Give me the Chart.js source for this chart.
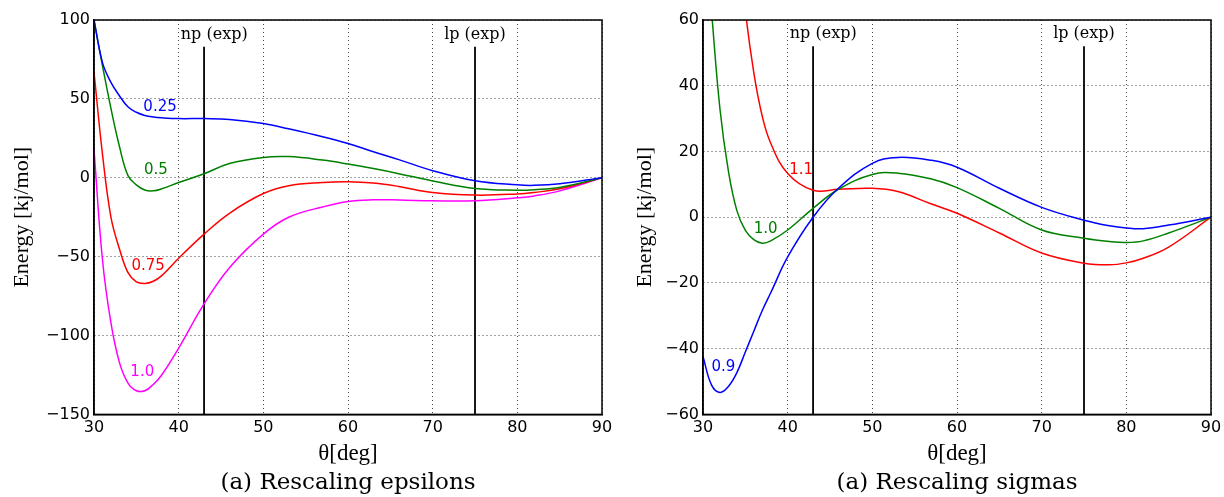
<!DOCTYPE html>
<html>
<head>
<meta charset="utf-8">
<script src="https://cdn.jsdelivr.net/npm/chart.js@4"></script>
<style>
  body { margin: 0; background: #fff; }
  .wrap { display: inline-block; width: 612px; height: 497px; vertical-align: top; }
  #page { width: 1224px; height: 497px; white-space: nowrap; font-size: 0; }
</style>
</head>
<body>
<div id="page">
  <div class="wrap"><canvas id="epsChart" width="612" height="497"></canvas></div>
  <div class="wrap"><canvas id="sigChart" width="612" height="497"></canvas></div>
</div>
<script>
// angulos (deg) muestreados para cada grafica
const epsAngles = [30, 31, 32, 33, 34, 35, 36, 37, 38, 40, 43, 46, 50, 53, 57, 60, 63, 66, 70, 75, 80, 82, 85, 90];
const eps025 = [100, 73, 60.5, 52, 45, 41.5, 39.5, 38.5, 38, 37.5, 37.5, 37, 34.4, 31, 26, 21.7, 16.5, 11.5, 4.5, -1.9, -4.5, -4.8, -3.8, 0];
const eps05  = [100, 71, 44, 20, 1.5, -4.5, -7.8, -8.3, -7, -3, 2.5, 9, 12.9, 13.4, 11.2, 8.7, 5.8, 2.6, -2, -6.8, -7.9, -7.6, -6.2, 0];
const eps075 = [67, 15, -25, -45, -60, -66, -67, -65.6, -62, -51, -35.7, -22.5, -10, -5, -3, -2.5, -3.3, -5.5, -9.4, -11, -10.3, -9.3, -7, 0];
const eps10  = [18, -52, -92, -117, -130, -135, -135, -131, -125, -108, -80, -57, -35.7, -25, -18.5, -15, -14, -14.1, -14.6, -14.6, -12.7, -11.5, -8.3, 0];

const sigAngles = [30, 31, 32, 33, 34, 35, 36, 37, 38, 40, 43, 46, 50, 53, 57, 60, 65, 70, 75, 78, 80, 82, 85, 90];
const sig09 = [-42.4, -51, -53.3, -51.5, -47.3, -41, -34.7, -28.4, -23, -12.1, 0, 8.8, 16.4, 18.2, 17.3, 15.2, 8.8, 3, -0.9, -2.6, -3.3, -3.5, -2.4, 0];
const sig10 = [95, 63, 33, 14, 2, -4, -6.8, -7.9, -7.2, -3.9, 2.7, 8.5, 13, 13.4, 11.6, 9, 2.7, -3.9, -6.4, -7.4, -7.7, -7.2, -4.8, 0];
const sig11 = [null, null, null, null, 90, 63, 44, 30.7, 22.5, 13.3, 8.2, 8.5, 8.8, 7.8, 4, 1.2, -4.8, -10.9, -14, -14.5, -13.9, -12.5, -9.1, 0];

// posiciones experimentales (lineas verticales) y donde va su texto
const expAngles = [43, 75];
const expNames = ['np (exp)', 'lp (exp)'];
const expNameAngles = [44.2, 75];

const xTicks = { min: 30, max: 90, step: 10 };

const frameAndLabels = {
    id: 'annotate',
    afterDatasetsDraw(chart, args, opts) {
        const { ctx, chartArea: a, scales: { x, y } } = chart;
        ctx.save();
        ctx.strokeStyle = '#000';
        ctx.lineWidth = 1.5;
        ctx.strokeRect(a.left, a.top, a.right - a.left, a.bottom - a.top);

        ctx.textAlign = 'center';
        ctx.textBaseline = 'middle';
        ctx.font = '15px "DejaVu Sans"';
        opts.curves.forEach(c => {
            ctx.fillStyle = c.color;
            ctx.fillText(c.text, x.getPixelForValue(c.at[0]), y.getPixelForValue(c.at[1]));
        });

        ctx.fillStyle = '#000';
        ctx.font = '16px "DejaVu Serif"';
        expNames.forEach((name, i) => {
            ctx.fillText(name, x.getPixelForValue(expNameAngles[i]), y.getPixelForValue(opts.markTop) - 12);
        });
        ctx.restore();
    }
};

function makeChart(id, angles, series, yr, markTop, yWidth, yTitlePad, rightPad, caption) {
    const datasets = series.map(s => ({
        data: angles.map((a, i) => ({ x: a, y: s.values[i] })),
        borderColor: s.color,
        borderWidth: 1.5,
        pointRadius: 0,
        tension: 0.4,
        fill: false
    }));
    expAngles.forEach(ang => {
        datasets.push({
            data: [{ x: ang, y: yr.min }, { x: ang, y: markTop }],
            borderColor: '#000',
            borderWidth: 1.8,
            pointRadius: 0
        });
    });

    new Chart(document.getElementById(id), {
        type: 'line',
        data: { datasets },
        options: {
            responsive: false,
            animation: false,
            layout: { padding: { top: 20, right: rightPad, left: 0, bottom: 0 } },
            plugins: {
                legend: { display: false },
                tooltip: { enabled: false },
                title: {
                    display: true,
                    text: caption,
                    position: 'bottom',
                    fullSize: false,
                    color: '#000',
                    font: { family: 'DejaVu Serif', size: 23, weight: 'normal' },
                    padding: { top: 1, bottom: 0 }
                },
                annotate: {
                    markTop,
                    curves: series.map(s => ({ text: s.label, color: s.color, at: s.at }))
                }
            },
            scales: {
                x: {
                    type: 'linear',
                    min: xTicks.min,
                    max: xTicks.max,
                    afterFit: s => { s.height = 54; s.paddingLeft = 0; s.paddingRight = 0; },
                    ticks: {
                        stepSize: xTicks.step,
                        padding: 4,
                        color: '#000',
                        font: { family: 'DejaVu Sans', size: 16 }
                    },
                    grid: { color: '#444', lineWidth: 1, drawTicks: false },
                    border: { display: true, color: '#000', width: 1.5, dash: [1, 3] },
                    title: {
                        display: true,
                        text: 'θ[deg]',
                        color: '#000',
                        font: { family: 'Liberation Serif', size: 23 },
                        padding: { top: 0, bottom: 1 }
                    }
                },
                y: {
                    min: yr.min,
                    max: yr.max,
                    afterFit: s => { s.width = yWidth; s.paddingTop = 0; s.paddingBottom = 0; },
                    ticks: {
                        stepSize: yr.step,
                        padding: 4,
                        color: '#000',
                        font: { family: 'DejaVu Sans', size: 16 },
                        callback: v => String(v).replace('-', '\u2212')
                    },
                    grid: { color: '#444', lineWidth: 1, drawTicks: false },
                    border: { display: true, color: '#000', width: 1.5, dash: [1, 3] },
                    title: {
                        display: true,
                        text: 'Energy [kj/mol]',
                        color: '#000',
                        font: { family: 'Liberation Serif', size: 22 },
                        padding: { top: yTitlePad, bottom: 0 }
                    }
                }
            }
        },
        plugins: [frameAndLabels]
    });
}

makeChart('epsChart', epsAngles, [
    { label: '0.25', values: eps025, color: '#0000ff', at: [37.8, 45] },
    { label: '0.5',  values: eps05,  color: '#008000', at: [37.3, 5] },
    { label: '0.75', values: eps075, color: '#ff0000', at: [36.4, -56] },
    { label: '1.0',  values: eps10,  color: '#ff00ff', at: [35.7, -123] }
], { min: -150, max: 100, step: 50 }, 83, 94, 9, 10, '(a) Rescaling epsilons');

makeChart('sigChart', sigAngles, [
    { label: '0.9', values: sig09, color: '#0000ff', at: [32.4, -45.5] },
    { label: '1.0', values: sig10, color: '#008000', at: [37.4, -3.6] },
    { label: '1.1', values: sig11, color: '#ff0000', at: [41.6, 14.2] }
], { min: -60, max: 60, step: 20 }, 52, 91, 20, 13, '(a) Rescaling sigmas');
</script>
</body>
</html>
